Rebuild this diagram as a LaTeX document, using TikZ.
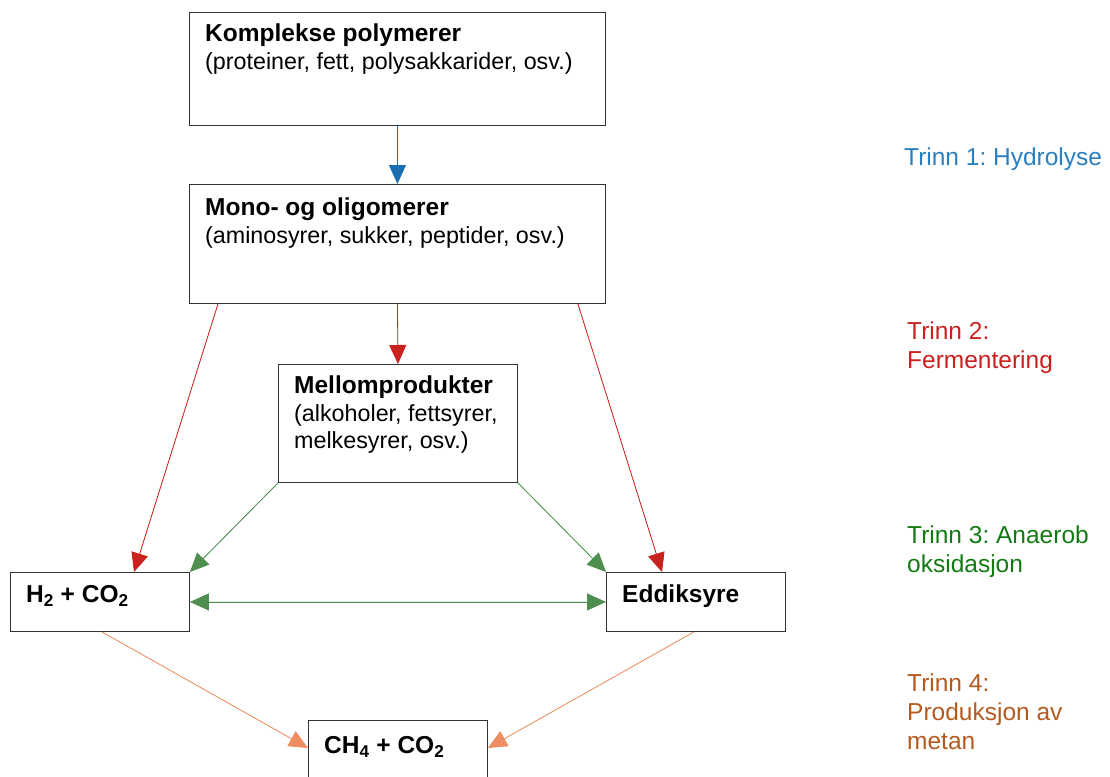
\documentclass[tikz,border=0pt]{standalone}
\usepackage{fontspec}
\setmainfont{Liberation Sans}
\usepackage{xcolor}
\usepackage{tikz}
\usetikzlibrary{calc}
\usetikzlibrary{positioning}
\usetikzlibrary{arrows.meta}
\frenchspacing

\definecolor{blaa}{HTML}{1B6DAE}
\definecolor{blaatekst}{HTML}{2A7FC0}
\definecolor{raud}{HTML}{C9211E}
\definecolor{gronn}{HTML}{127A12}
\definecolor{gronnline}{HTML}{4E8E4E}
\definecolor{oransje}{HTML}{E2671C}
\definecolor{oransjeline}{HTML}{EE8D62}
\definecolor{brun}{HTML}{B45A1E}

\newcommand{\tittel}[1]{{\fontsize{24.5}{27.5}\selectfont\textbf{#1}}}

\begin{document}
\begin{tikzpicture}[x=1pt, y=-1pt]

        \useasboundingbox (0, 0) rectangle (1110, 776);

        % boxes and text
        \tikzset{
            boks/.style={draw=black!80, line width=0.9pt, anchor=north west,
                inner sep=0pt},
            tekst/.style={anchor=north west, align=left, inner sep=0pt,
                font=\fontsize{23.3}{27.5}\selectfont},
            trinn/.style={anchor=north west, align=left, inner sep=0pt,
                font=\fontsize{24.5}{29}\selectfont},
            pil/.style={line width=0.8pt,
                -{Triangle[length=19pt, width=17pt]}},
            dobbelpil/.style={line width=0.8pt,
                {Triangle[length=19pt, width=17pt]}-{Triangle[length=19pt, width=17pt]}}
        }

        \begin{scope}

            \node (K1) [boks, minimum width=416pt, minimum height=113pt]
                at (189, 12) {};
            \node (K2) [boks, minimum width=416pt, minimum height=119pt]
                at (189, 184) {};
            \node (K3) [boks, minimum width=239pt, minimum height=118pt]
                at (278, 364) {};
            \node (K4) [boks, minimum width=179pt, minimum height=59pt]
                at (10, 572) {};
            \node (K5) [boks, minimum width=179pt, minimum height=59pt]
                at (606, 572) {};
            \node (K6) [boks, minimum width=179pt, minimum height=60pt]
                at (308, 720) {};

            \node (T1) [tekst, below right=12pt and 16pt of K1.north west]
            {\tittel{Komplekse polymerer}\\(proteiner, fett, polysakkarider, osv.)};
            \node (T2) [tekst, below right=14pt and 16pt of K2.north west]
            {\tittel{Mono- og oligomerer}\\(aminosyrer, sukker, peptider, osv.)};
            \node (T3) [tekst, below right=12pt and 16pt of K3.north west]
            {\tittel{Mellomprodukter}\\(alkoholer, fettsyrer,\\melkesyrer, osv.)};
            \node (T4) [tekst, below right=13pt and 16pt of K4.north west]
            {\tittel{H\textsubscript{2} + CO\textsubscript{2}}};
            \node (T5) [tekst, below right=13pt and 16pt of K5.north west]
            {\tittel{Eddiksyre}};
            \node (T6) [tekst, below right=16pt and 16pt of K6.north west]
            {\tittel{CH\textsubscript{4} + CO\textsubscript{2}}};

            \node (S1) [trinn, text=blaatekst] at (904, 148) {Trinn 1: Hydrolyse};
            \node (S2) [trinn, text=raud] at (907, 322) {Trinn 2:\\Fermentering};
            \node (S3) [trinn, text=gronn] at (907, 526) {Trinn 3: Anaerob\\oksidasjon};
            \node (S4) [trinn, text=brun] at (907, 674) {Trinn 4:\\Produksjon av\\metan};
        \end{scope}

        \begin{scope}
            \draw[pil, draw=blaa, fill=blaa] (K1.south) -- (K2.north);

            \draw[pil, draw=raud, fill=raud] (K2.south) -- (K3.north);
            \draw[pil, draw=raud, fill=raud]
                ($(K2.south west)+(29, 0)$) -- ($(K4.north west)+(124, 0)$);
            \draw[pil, draw=raud, fill=raud]
                ($(K2.south east)+(-28, 0)$) -- ($(K5.north west)+(56, 0)$);

            \draw[pil, draw=gronnline, fill=gronn] (K3.south west) -- (K4.north east);
            \draw[pil, draw=gronnline, fill=gronn] (K3.south east) -- (K5.north west);
            \draw[dobbelpil, draw=gronnline, fill=gronn]
                ($(K4.north east)!0.5!(K4.south east)$) -- ($(K5.north west)!0.5!(K5.south west)$);

            \draw[pil, draw=oransjeline, fill=oransje]
                ($(K4.south)+(2, 0)$) -- ($(K6.north west)+(0, 28)$);
            \draw[pil, draw=oransjeline, fill=oransje]
                ($(K5.south)+(-2, 0)$) -- ($(K6.north east)+(0, 28)$);
        \end{scope}

        \end{tikzpicture}
\end{document}
